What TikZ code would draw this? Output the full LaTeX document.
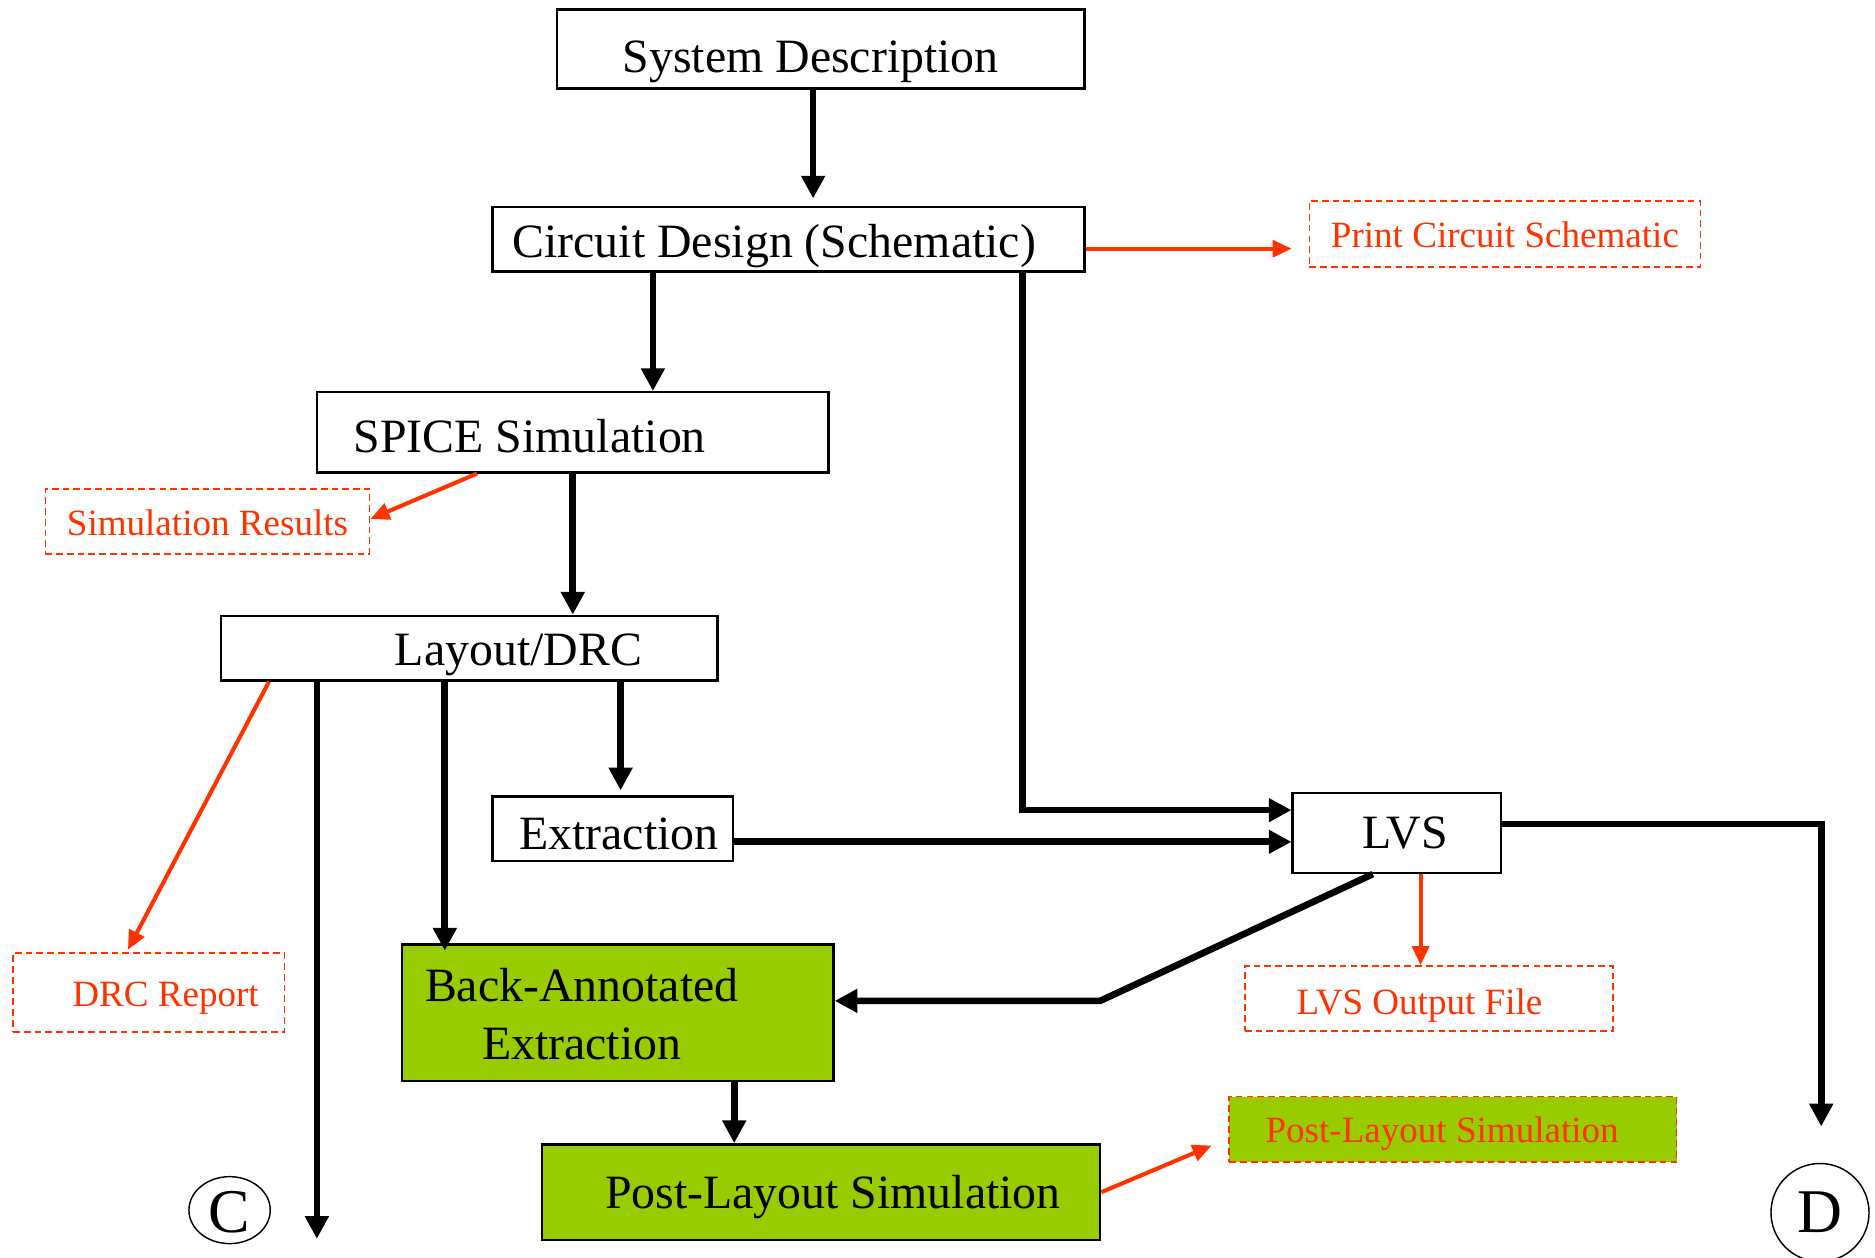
\documentclass[tikz,border=0pt]{standalone}
\usepackage{fontspec}
\setmainfont{Liberation Serif}
\usetikzlibrary{arrows.meta,shapes.geometric}
\definecolor{rd}{HTML}{FF3300}
\definecolor{gr}{HTML}{99CC00}
\newcommand\shx[3]{\hspace*{#1}\raisebox{-#2}[\height][\depth]{#3}\hspace*{-#1}}
\begin{document}
\begin{tikzpicture}[x=0.5pt,y=-0.5pt,
  box/.style={draw=black,line width=1pt,inner sep=0pt,font=\fontsize{20}{24.5}\selectfont},
  gbox/.style={box,fill=gr},
  rbox/.style={draw=rd,line width=0.75pt,dash pattern=on 2.8pt off 1.7pt,text=rd,inner sep=0pt,font=\fontsize{15.5}{18}\selectfont},
  arr/.style={line width=2.8pt,-{Triangle[length=9.5pt,width=9.5pt]}},
  rarr/.style={draw=rd,line width=1.7pt,-{Triangle[length=8pt,width=7pt]}},
  conn/.style={ellipse,draw,line width=0.6pt,inner sep=0pt,font=\fontsize{26}{30}\selectfont}
]
\useasboundingbox (0,0) rectangle (1568,1052);

% boxes
\node[box,minimum width=220.5pt,minimum height=33pt] (sys) at (686.5,41) {\shx{-4.25pt}{5.5pt}{System Description}};
\node[box,minimum width=247.5pt,minimum height=27pt] (cd) at (659.5,200) {\shx{-6pt}{3pt}{Circuit Design (Schematic)}};
\node[rbox,minimum width=163.5pt,minimum height=27.5pt] (pcs) at (1258.5,195.5) {\shx{0pt}{0.5pt}{Print Circuit Schematic}};
\node[box,minimum width=214pt,minimum height=33.5pt] (spice) at (479,361.5) {\shx{-18pt}{1.5pt}{SPICE Simulation}};
\node[rbox,minimum width=135.5pt,minimum height=27pt] (simres) at (173.5,436) {\shx{0pt}{0.5pt}{Simulation Results}};
\node[box,minimum width=207.5pt,minimum height=27pt] (lay) at (392.5,542) {\shx{20.5pt}{3pt}{Layout/DRC}};
\node[rbox,minimum width=113.5pt,minimum height=33pt] (drc) at (124.5,830) {\shx{7pt}{2.5pt}{DRC Report}};
\node[box,minimum width=100.5pt,minimum height=27pt] (ext) at (512.5,693) {\shx{2.5pt}{2pt}{Extraction}};
\node[box,minimum width=87pt,minimum height=33.5pt] (lvs) at (1168,696.5) {\shx{3.5pt}{0pt}{LVS}};
\node[rbox,minimum width=154pt,minimum height=27pt] (lvsout) at (1195,835) {\shx{-4pt}{3pt}{LVS Output File}};
\node[gbox,minimum width=180.5pt,minimum height=57pt] (bae) at (516.5,847) {\shx{-15pt}{2.5pt}{\begin{tabular}{@{}c@{}}Back-Annotated\\Extraction\end{tabular}}};
\node[gbox,minimum width=233.5pt,minimum height=40pt] (pls) at (686.5,997) {\shx{5pt}{2pt}{Post-Layout Simulation}};
\node[rbox,fill=gr,minimum width=187pt,minimum height=27.5pt] (plsr) at (1215,944.5) {\shx{-4.5pt}{1.75pt}{Post-Layout Simulation}};
\node[conn,minimum width=34pt,minimum height=28pt] (cC) at (192,1012) {\shx{0pt}{1pt}{C}};
\node[conn,minimum width=41pt,minimum height=41pt] (cD) at (1522,1014) {D};

\coordinate (cend) at (265,1036);
\coordinate (dend) at (1523,942);
\coordinate (bend) at (920,837);

% black connectors
\draw[arr,shorten >=3pt] ([xshift=-3.25pt]sys.south) -- ([xshift=-3.25pt]sys.south |- cd.north);
\draw[arr] ([xshift=-56.75pt]cd.south) -- ([xshift=-56.75pt]cd.south |- spice.north);
\draw[arr] ([xshift=97.75pt]cd.south) |- ([yshift=9.5pt]lvs.west);
\draw[arr] (spice.south) -- (spice.south |- lay.north);
\draw[arr] ([xshift=-63.75pt]lay.south) -- (cend);
\draw[arr,shorten >=-3pt] ([xshift=-10.25pt]lay.south) -- ([xshift=-10.25pt]lay.south |- bae.north);
\draw[arr,shorten >=2pt] ([xshift=63.25pt]lay.south) -- ([xshift=63.25pt]lay.south |- ext.north);
\draw[arr] ([yshift=-5.5pt]ext.east) -- ([yshift=-5.5pt]ext.east -| lvs.west);
\draw[arr] ([yshift=3.75pt]lvs.east) -| (dend);
\draw[arr] ([xshift=-10pt]lvs.south) -- (bend) -- ([yshift=5pt]bae.east);
\draw[arr] ([xshift=48.75pt]bae.south) -- ([xshift=48.75pt]bae.south |- pls.north);

% red connectors
\draw[rarr] ([yshift=-4pt]cd.east) -- ([xshift=-7pt,yshift=-6.25pt]pcs.west);
\draw[rarr] ([xshift=-40pt]spice.south) -- ([yshift=1pt]simres.east);
\draw[rarr] ([xshift=-83.75pt]lay.south) -- ([xshift=-8.75pt,yshift=1pt]drc.north);
\draw[rarr] ([xshift=10pt]lvs.south) -- ([xshift=10pt]lvs.south |- lvsout.north);
\draw[rarr] (pls.east) -- ([xshift=-7pt,yshift=-6.75pt]plsr.west);
\end{tikzpicture}
\end{document}
